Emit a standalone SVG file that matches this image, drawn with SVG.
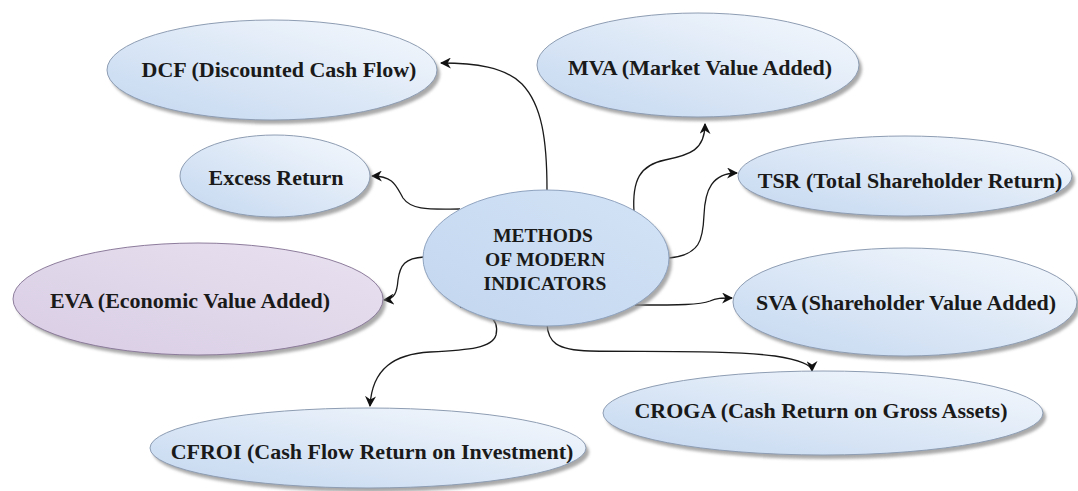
<svg xmlns="http://www.w3.org/2000/svg" width="1078" height="491" viewBox="0 0 1078 491">
<defs>
<linearGradient id="gBlue" x1="0" y1="1" x2="1" y2="0">
<stop offset="0" stop-color="#c3d7f0"/>
<stop offset="1" stop-color="#f6f9fd"/>
</linearGradient>
<linearGradient id="gCenter" x1="0" y1="1" x2="1" y2="0">
<stop offset="0" stop-color="#c2d6ef"/>
<stop offset="1" stop-color="#d3e3f6"/>
</linearGradient>
<linearGradient id="gPurple" x1="0" y1="1" x2="1" y2="0">
<stop offset="0" stop-color="#d8cce4"/>
<stop offset="1" stop-color="#e9e2f0"/>
</linearGradient>
<filter id="sh" x="-10%" y="-20%" width="120%" height="140%">
<feGaussianBlur stdDeviation="1.6"/>
</filter>
<marker id="arr" viewBox="0 0 10 10" refX="9" refY="5" markerWidth="11" markerHeight="11" markerUnits="userSpaceOnUse" orient="auto">
<path d="M0,0 L10,5 L0,10 L3,5 z" fill="#111"/>
</marker>
<style>
.shadow{fill:#8d8d8d;opacity:0.75;filter:url(#sh)}
.blue{fill:url(#gBlue);stroke:#8e9db3;stroke-width:1}
.center{fill:url(#gCenter);stroke:#8fa3bf;stroke-width:1}
.purple{fill:url(#gPurple);stroke:#8d7c9c;stroke-width:1}
.lbl{font-family:"Liberation Serif","Times New Roman",serif;font-size:22px;font-weight:bold;fill:#1a1a1a;text-anchor:middle}
.clbl{font-family:"Liberation Serif","Times New Roman",serif;font-size:19.5px;font-weight:bold;fill:#1a1a1a;text-anchor:middle}
.con{fill:none;stroke:#1a1a1a;stroke-width:1.3;marker-end:url(#arr)}
</style>
</defs>
<rect width="1078" height="491" fill="#ffffff"/>

<g id="connectors">
<path class="con" d="M547 190 C547 140 542 105 522 84 C505 67 475 63 441 63"/>
<path class="con" d="M460 209 C432 209 412 211 403 198 C396 186 394 176 372 176"/>
<path class="con" d="M634 212 C632 180 640 165 665 160 C690 155 705 150 705 124"/>
<path class="con" d="M669 258 C700 255 703 240 704 215 C705 190 712 173 737 173"/>
<path class="con" d="M424 257 C405 258 400 265 398 280 C397 292 395 299 384 300"/>
<path class="con" d="M635 305 C680 305 700 305 710 301 C716 298 722 298 732 298"/>
<path class="con" d="M460 307 C485 308 500 318 496 335 C492 348 470 350 430 352 C395 354 372 368 370 406"/>
<path class="con" d="M547 324 C548 342 556 350 590 351 C650 352 730 350 775 356 C800 360 812 365 812 371"/>
</g>

<g id="node-dcf">
<ellipse class="shadow" cx="275" cy="74" rx="165" ry="50"/>
<ellipse class="blue" cx="272" cy="70" rx="165" ry="50"/>
<text class="lbl" x="279" y="77">DCF (Discounted Cash Flow)</text>
</g>

<g id="node-mva">
<ellipse class="shadow" cx="701" cy="69" rx="161" ry="52"/>
<ellipse class="blue" cx="698" cy="65" rx="161" ry="52"/>
<text class="lbl" x="700" y="75">MVA (Market Value Added)</text>
</g>

<g id="node-excess">
<ellipse class="shadow" cx="278" cy="180" rx="95" ry="41"/>
<ellipse class="blue" cx="275" cy="176" rx="95" ry="41"/>
<text class="lbl" x="276" y="185">Excess Return</text>
</g>

<g id="node-tsr">
<ellipse class="shadow" cx="908" cy="180" rx="167" ry="40"/>
<ellipse class="blue" cx="905" cy="176" rx="167" ry="40"/>
<text class="lbl" x="910" y="188">TSR (Total Shareholder Return)</text>
</g>

<g id="node-center">
<ellipse class="shadow" cx="549" cy="262" rx="123" ry="68"/>
<ellipse class="center" cx="546" cy="258" rx="123" ry="68"/>
<text class="clbl" x="543" y="242">METHODS</text>
<text class="clbl" x="545" y="266">OF MODERN</text>
<text class="clbl" x="545" y="290">INDICATORS</text>
</g>

<g id="node-eva">
<ellipse class="shadow" cx="201" cy="303" rx="185" ry="56"/>
<ellipse class="purple" cx="198" cy="299" rx="185" ry="56"/>
<text class="lbl" x="190" y="308">EVA (Economic Value Added)</text>
</g>

<g id="node-sva">
<ellipse class="shadow" cx="908" cy="306" rx="172" ry="54"/>
<ellipse class="blue" cx="905" cy="302" rx="172" ry="54"/>
<text class="lbl" x="906" y="310">SVA (Shareholder Value Added)</text>
</g>

<g id="node-cfroi">
<ellipse class="shadow" cx="371" cy="452" rx="218" ry="40"/>
<ellipse class="blue" cx="368" cy="448" rx="218" ry="40"/>
<text class="lbl" x="372" y="459">CFROI (Cash Flow Return on Investment)</text>
</g>

<g id="node-croga">
<ellipse class="shadow" cx="826" cy="417" rx="220" ry="42"/>
<ellipse class="blue" cx="823" cy="413" rx="220" ry="42"/>
<text class="lbl" x="821" y="418">CROGA (Cash Return on Gross Assets)</text>
</g>
</svg>
